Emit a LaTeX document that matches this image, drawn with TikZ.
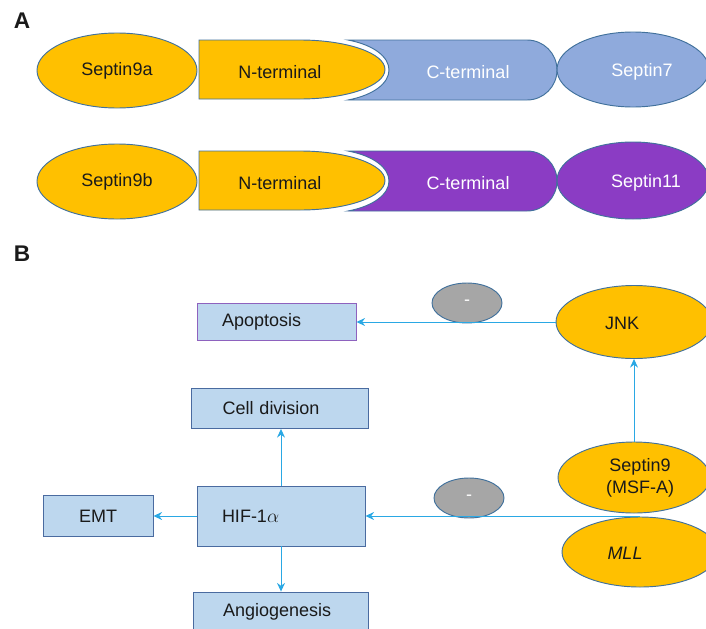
\documentclass[tikz,border=0pt]{standalone}
\usepackage{fontspec}
\setmainfont{Liberation Sans}
\usetikzlibrary{shapes.geometric,arrows.meta}
\definecolor{gold}{HTML}{FFC000}
\definecolor{cblue}{HTML}{8FAADC}
\definecolor{cpurple}{HTML}{8B3CC4}
\definecolor{edgeblue}{HTML}{41719C}
\definecolor{boxfill}{HTML}{BDD7EE}
\definecolor{boxedge}{HTML}{4A6BA0}
\definecolor{apoedge}{HTML}{8E62BE}
\definecolor{arrowblue}{HTML}{2AA8E4}
\definecolor{greyfill}{HTML}{A6A6A6}
\definecolor{ink}{HTML}{1A1A1A}
\newcommand{\labfont}{\fontsize{13.5}{16}\selectfont}
\begin{document}
\begin{tikzpicture}[x=0.75pt,y=-0.75pt,
  oval/.style={ellipse, draw=edgeblue, line width=0.7pt, inner sep=0pt},
  shapeline/.style={draw=edgeblue, line width=0.7pt},
  txt/.style={font=\labfont, text=ink, inner sep=0pt},
  wtxt/.style={font=\labfont, text=white, inner sep=0pt},
  box/.style={rectangle, draw=boxedge, fill=boxfill, line width=0.65pt, font=\labfont, text=ink},
  lbox/.style={box, align=left, inner ysep=0pt},
  conn/.style={draw=arrowblue, line width=0.75pt, -{Stealth[length=6.5pt,width=6pt,inset=2.2pt]}},
  minus/.style={ellipse, draw=edgeblue, fill=greyfill, line width=0.7pt, minimum width=52.5pt, minimum height=30pt, inner sep=0pt, text=white, font=\labfont},
  panel/.style={font=\fontsize{17}{20}\selectfont\bfseries, text=ink, inner sep=0pt}
]
\path[use as bounding box] (0,0) rectangle (706,628);
\clip (0,0) rectangle (706,628);

% ---------------- Panel A ----------------
\node[panel] (pa) at (22,21) {A};

% row 1
\draw[shapeline, fill=cblue] (348,40) -- (527,40) .. controls (543.6,40) and (557,53.4) .. (557,70)
  .. controls (557,86.6) and (543.6,100) .. (527,100) -- (348,100)
  .. controls (374,95) and (389,83) .. (389,70) .. controls (389,57) and (374,45) .. (348,40) -- cycle;
\draw[shapeline, fill=gold] (199,40) -- (300,40) .. controls (347,40) and (385,53.2) .. (385,69.5)
  .. controls (385,85.8) and (347,99) .. (300,99) -- (199,99) -- cycle;
\node[oval, fill=gold, minimum width=120pt, minimum height=56.25pt] (s9a) at (117,70.5) {};
\node[txt] (s9at) at (s9a) {Septin9a};
\node[txt] (nta) at (280,72) {N-terminal};
\node[wtxt] (cta) at (468,72) {C-terminal};
\node[oval, fill=cblue, minimum width=114pt, minimum height=56.25pt] (s7) at (633,69.5) {};
\node[wtxt] (s7t) at (642,72) {Septin7};

% row 2
\begin{scope}[shift={(0,111)}]
\draw[shapeline, fill=cpurple] (348,40) -- (527,40) .. controls (543.6,40) and (557,53.4) .. (557,70)
  .. controls (557,86.6) and (543.6,100) .. (527,100) -- (348,100)
  .. controls (374,95) and (389,83) .. (389,70) .. controls (389,57) and (374,45) .. (348,40) -- cycle;
\draw[shapeline, fill=gold] (199,40) -- (300,40) .. controls (347,40) and (385,53.2) .. (385,69.5)
  .. controls (385,85.8) and (347,99) .. (300,99) -- (199,99) -- cycle;
\node[oval, fill=gold, minimum width=120pt, minimum height=56.25pt] (s9b) at (117,70.5) {};
\node[txt] (s9bt) at (s9b) {Septin9b};
\node[txt] (ntb) at (280,72) {N-terminal};
\node[wtxt] (ctb) at (468,72) {C-terminal};
\node[oval, fill=cpurple, minimum width=114pt, minimum height=57.75pt] (s11) at (633,69.5) {};
\node[wtxt] (s11t) at (646,72) {Septin11};
\end{scope}

% ---------------- Panel B ----------------
\node[panel] (pb) at (22,254) {B};

\node[lbox, draw=apoedge, text width=81.75pt, inner xsep=18.75pt, minimum height=27.75pt] (apo) at (276.5,322) {Apoptosis};
\node[lbox, text width=86.25pt, inner xsep=23.25pt, minimum height=30pt] (cell) at (280,408.5) {Cell division};
\node[lbox, text width=88.5pt, inner xsep=18.75pt, minimum height=45pt] (hif) at (281,516) {HIF-1$\alpha$};
\node[box, minimum width=82.5pt, minimum height=30.75pt, inner sep=0pt] (emt) at (98,516) {EMT};
\node[lbox, text width=86.25pt, inner xsep=22.5pt, minimum height=30pt] (angio) at (280.5,612) {Angiogenesis};

\node[minus] (m1) at (467,303) {-};
\node[minus] (m2) at (469,498) {-};

\node[oval, fill=gold, minimum width=117pt, minimum height=54.75pt] (jnk) at (634,322) {};
\node[txt] (jnkt) at (622,323) {JNK};
\node[oval, fill=gold, minimum width=114pt, minimum height=53.25pt] (s9) at (634,477.5) {};
\node[txt, align=center] (s9t) at (640,478) {Septin9\\(MSF-A)};
\node[oval, fill=gold, minimum width=117pt, minimum height=52.5pt] (mll) at (640,552) {};
\node[txt] (mllt) at (625,553) {\itshape MLL};

\coordinate (jn) at (640,516);
\draw[conn] (jnk.west) -- (apo.east);
\draw[conn] (s9.north) -- (jnk.south);
\draw[conn] (jn) -- (hif.east);
\draw[conn] (hif.west) -- (emt.east);
\draw[conn] (hif.north) -- (hif.north |- cell.south);
\draw[conn] (hif.south) -- (hif.south |- angio.north);
\end{tikzpicture}
\end{document}
